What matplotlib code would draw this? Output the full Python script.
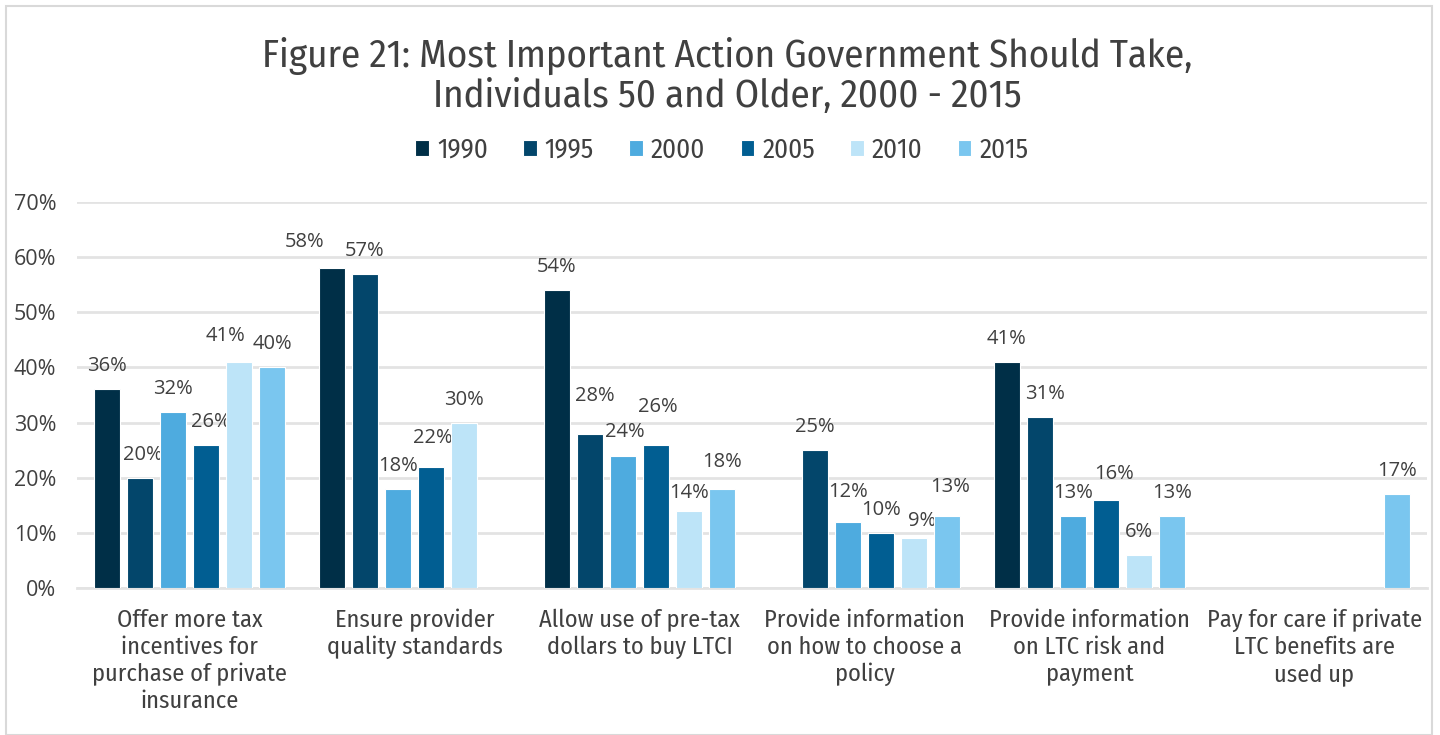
import matplotlib
matplotlib.use("Agg")
import matplotlib.pyplot as plt
import numpy as np
from matplotlib.patches import Rectangle
from matplotlib import font_manager

categories = [
    "Offer more tax\nincentives for\npurchase of private\ninsurance",
    "Ensure provider\nquality standards",
    "Allow use of pre-tax\ndollars to buy LTCI",
    "Provide information\non how to choose a\npolicy",
    "Provide information\non LTC risk and\npayment",
    "Pay for care if private\nLTC benefits are\nused up",
]
series_names = ["1990", "1995", "2000", "2005", "2010", "2015"]
v1990 = [36, 58, 54, None, 41, None]
v1995 = [20, 57, 28, 25, 31, None]
v2000 = [32, 18, 24, 12, 13, None]
v2005 = [26, 22, 26, 10, 16, None]
v2010 = [41, 30, 14, 9, 6, None]
v2015 = [40, None, 18, 13, 13, 17]
series_values = [v1990, v1995, v2000, v2005, v2010, v2015]
colors = ["#002f47", "#03466b", "#4eabdf", "#015e92", "#bde4f8", "#7ac6ef"]
title = "Figure 21: Most Important Action Government Should Take,\nIndividuals 50 and Older, 2000 - 2015"

# label nudges (pixels: dx right, dy up) mimicking the original label placement
label_nudge = {
    (1, 0): (3, 0), (3, 0): (5, 0), (4, 0): (-14, 3),
    (0, 1): (-27, 3), (3, 1): (2, 6),
    (1, 2): (5, 15), (2, 2): (2, 1), (3, 2): (2, 15), (4, 2): (0, -5), (5, 2): (0, 4),
    (2, 3): (0, 7), (4, 3): (8, -6), (5, 3): (3, 6),
    (1, 4): (5, 0), (3, 4): (8, 3),
}

avail = {f.name for f in font_manager.fontManager.ttflist}
def pick(cands):
    for c in cands:
        if c in avail:
            return c
    return "DejaVu Sans"
narrow = pick(["Fira Sans Condensed", "Roboto Condensed", "Archivo Narrow"])
plain = pick(["Open Sans", "Noto Sans"])
text_col = "#404040"
PX = 72 / 100  # points per pixel

fig = plt.figure(figsize=(14.4, 7.35), dpi=100)
fig.patch.set_facecolor("white")
fig.add_artist(Rectangle((6/1440, 0), 1426/1440, 1 - 6/735, transform=fig.transFigure,
                         fill=False, edgecolor="#d9d9d9", linewidth=1.5))

ax = fig.add_axes([77/1440, 1 - 588/735, 1350/1440, 386/735])
n = len(series_names)
slot = 0.1467
width = 0.116
x = np.arange(len(categories))
for i, (name, vals, c) in enumerate(zip(series_names, series_values, colors)):
    idx = [j for j, v in enumerate(vals) if v is not None]
    xs = [x[j] + (i - (n - 1) / 2) * slot for j in idx]
    ys = [vals[j] for j in idx]
    bars = ax.bar(xs, ys, width=width, color=c, edgecolor="white", linewidth=0.8,
                  label=name, zorder=3)
    for j, b, v in zip(idx, bars, ys):
        dx, dy = label_nudge.get((i, j), (0, 0))
        ax.annotate(f"{v}%", xy=(b.get_x() + b.get_width() / 2, v),
                    xytext=(dx * PX, (23 + dy) * PX), textcoords="offset points",
                    ha="center", va="center", fontsize=14.5, color=text_col, family=plain)

ax.set_xlim(-0.5, len(categories) - 0.5)
ax.set_ylim(0, 70)
ax.set_yticks(range(0, 71, 10))
ax.set_yticklabels([f"{t}%" for t in range(0, 71, 10)], fontsize=15.5, color=text_col, family=plain)
ax.set_xticks(x)
ax.set_xticklabels(categories, fontsize=17.5, color=text_col, family=narrow, linespacing=1.2)
ax.tick_params(axis="both", length=0)
ax.tick_params(axis="x", pad=15)
ax.tick_params(axis="y", pad=15)
ax.grid(axis="y", color="#e3e3e3", linewidth=2, zorder=0)
for s in ["top", "right", "left"]:
    ax.spines[s].set_visible(False)
ax.spines["bottom"].set_color("#e3e3e3")
ax.spines["bottom"].set_linewidth(2)
ax.set_axisbelow(True)

fig.text(727/1440, 1 - 76/735, title, ha="center", va="center", fontsize=28,
         color=text_col, family=narrow, weight="normal", linespacing=1.1)

leg = fig.legend(loc="center", bbox_to_anchor=(722/1440, 1 - 150/735), ncol=6,
                 frameon=False, prop={"family": narrow, "size": 19.5},
                 handlelength=0.5, handleheight=0.5, handletextpad=0.3, columnspacing=1.3)
for t in leg.get_texts():
    t.set_color(text_col)

fig.savefig("out.png", dpi=100, facecolor="white")
